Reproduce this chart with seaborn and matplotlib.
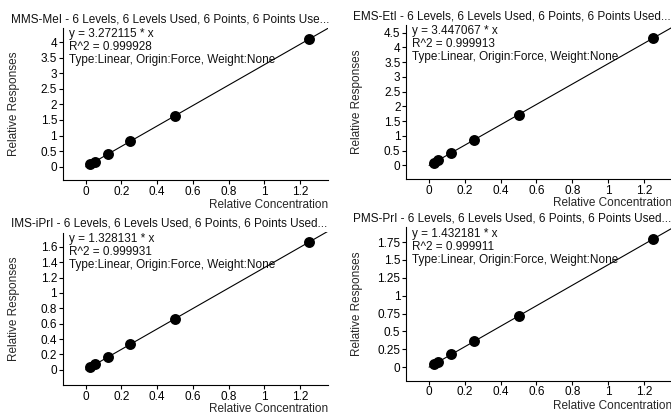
import matplotlib
matplotlib.use("Agg")
import matplotlib.pyplot as plt
from matplotlib.ticker import FuncFormatter
import numpy as np
import pandas as pd
import seaborn as sns

# Calibration levels (relative concentration) shared by all four compounds
conc = [0.025, 0.05, 0.125, 0.25, 0.5, 1.25]

# Measured relative responses for each compound
resp_mms = [0.08, 0.16, 0.42, 0.83, 1.62, 4.09]
resp_ems = [0.09, 0.17, 0.43, 0.86, 1.71, 4.31]
resp_ims = [0.03, 0.07, 0.16, 0.33, 0.66, 1.66]
resp_pms = [0.04, 0.07, 0.18, 0.36, 0.71, 1.79]

# Fitted slopes and R^2 (linear fit forced through origin)
names = ["MMS-MeI", "EMS-EtI", "IMS-iPrI", "PMS-PrI"]
slopes = [3.272115, 3.447067, 1.328131, 1.432181]
r2 = [0.999928, 0.999913, 0.999931, 0.999911]
title_tail = ["6 Levels, 6 Levels Used, 6 Points, 6 Points Use...",
              "6 Levels, 6 Levels Used, 6 Points, 6 Points Used...",
              "6 Levels, 6 Levels Used, 6 Points, 6 Points Used...",
              "6 Levels, 6 Levels Used, 6 Points, 6 Points Used..."]
y_steps = [0.5, 0.5, 0.2, 0.25]
y_limits = [(-0.44, 4.45), (-0.46, 4.76), (-0.198, 1.786), (-0.187, 1.954)]
x_limits = (-0.129, 1.357)

sns.set_style("ticks")
plt.rcParams["font.family"] = ["Liberation Sans", "DejaVu Sans"]
plt.rcParams["text.color"] = "#111111"

W, H = 671, 415
fig = plt.figure(figsize=(W / 100, H / 100), dpi=100)

# axes boxes in pixels: left, right, top, bottom
boxes = [(62.7, 328, 28, 180.5), (406, 672, 25, 179),
         (62.7, 328, 232.5, 385), (406, 672, 227.5, 380.5)]
# bottom edge of the x-label, in pixels
xlabel_bottom = [211, 209, 414.5, 412]
# left edge of the panel title and centre of the y-label, in pixels
title_left = [11, 353]
ylabel_x = [14, 357]

responses = [resp_mms, resp_ems, resp_ims, resp_pms]
fs = 8.5


def fmt_num(v, _pos=None):
    s = "%g" % round(v, 6)
    return "0" if s in ("-0", "0") else s


for i, (l, r, t, b) in enumerate(boxes):
    col = i % 2
    ax = fig.add_axes([l / W, 1 - b / H, (r - l) / W, (b - t) / H])
    ax.set_xlim(*x_limits)
    ax.set_ylim(*y_limits[i])

    fit = pd.DataFrame({"x": [0.0, x_limits[1]]})
    fit["y"] = slopes[i] * fit["x"]
    sns.lineplot(data=fit, x="x", y="y", ax=ax, color="black", lw=0.8, zorder=3)

    pts = pd.DataFrame({"x": conc, "y": responses[i]})
    sns.scatterplot(data=pts, x="x", y="y", ax=ax, color="black", s=62,
                    edgecolor="black", linewidth=0, zorder=4)

    for side in ("top", "right"):
        ax.spines[side].set_visible(False)
    for side in ("left", "bottom"):
        ax.spines[side].set_linewidth(0.8)
        ax.spines[side].set_color("black")

    ax.set_xticks(np.arange(0, 1.25, 0.2))
    ax.set_yticks(np.arange(0, y_limits[i][1], y_steps[i]))
    ax.xaxis.set_major_formatter(FuncFormatter(fmt_num))
    ax.yaxis.set_major_formatter(FuncFormatter(fmt_num))
    ax.tick_params(axis="both", direction="out", length=3, width=0.8,
                   labelsize=fs, pad=1, colors="black")

    ax.set_xlabel("Relative Concentration", fontsize=fs, loc="right")
    ax.xaxis.label.set_va("bottom")
    ax.xaxis.set_label_coords(1.0, (b - xlabel_bottom[i]) / (b - t))
    ax.set_ylabel("Relative Responses", fontsize=fs)
    ax.yaxis.label.set_va("center")
    ax.yaxis.set_label_coords((ylabel_x[col] - l) / (r - l), 0.5)

    ax.set_title(f"{names[i]} - {title_tail[i]}", fontsize=fs, loc="left",
                 x=(title_left[col] - l) / (r - l), pad=4)

    info = (f"y = {slopes[i]:.6f} * x\n"
            f"R^2 = {r2[i]:.6f}\n"
            "Type:Linear, Origin:Force, Weight:None")
    ax.text(0.022, 1.0, info, transform=ax.transAxes, fontsize=fs,
            va="top", ha="left", linespacing=1.12, zorder=2)

fig.savefig("out.png", dpi=100)
